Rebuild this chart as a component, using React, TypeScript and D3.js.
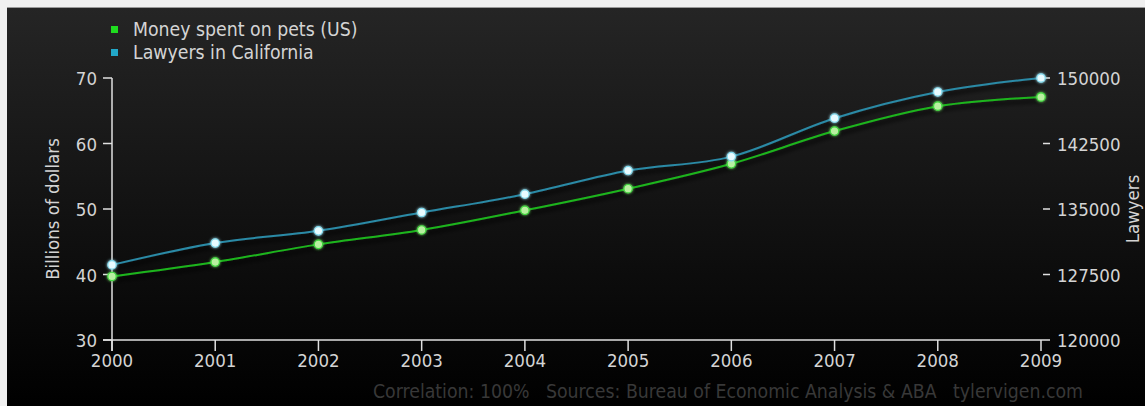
import React from "react";
import * as d3 from "d3";

const years = [2000, 2001, 2002, 2003, 2004, 2005, 2006, 2007, 2008, 2009];
const petSpending = [39.7, 41.9, 44.6, 46.8, 49.8, 53.1, 56.9, 61.9, 65.7, 67.1];
const lawyersCA = [128600, 131100, 132500, 134600, 136700, 139400, 141000, 145400, 148400, 150000];
const leftTicks = [30, 40, 50, 60, 70];
const rightTicks = [120000, 127500, 135000, 142500, 150000];
const seriesNames = ["Money spent on pets (US)", "Lawyers in California"];
const footerText = "Correlation: 100%   Sources: Bureau of Economic Analysis & ABA   tylervigen.com";

const W = 1145;
const H = 406;
const FONT = "'DejaVu Sans Condensed', 'DejaVu Sans', sans-serif";
const FS = 18.5;
const FS_BIG = 19.3;

export default function App() {
  const x = d3.scaleLinear().domain([2000, 2009]).range([112, 1041]);
  const yL = d3.scaleLinear().domain([30, 70]).range([340, 78]);
  const yR = d3.scaleLinear().domain([120000, 150000]).range([340, 78]);

  const petLine = d3
    .line<number>()
    .x((_, i) => x(years[i]))
    .y((d) => yL(d))
    .curve(d3.curveMonotoneX)(petSpending) as string;
  const lawLine = d3
    .line<number>()
    .x((_, i) => x(years[i]))
    .y((d) => yR(d))
    .curve(d3.curveMonotoneX)(lawyersCA) as string;

  const green = "#1fb51f";
  const blue = "#2b8aa6";
  const txt = "#d4d4d4";

  return (
    <svg
      width={W}
      height={H}
      style={{ position: "fixed", left: 0, top: 0, display: "block", background: "#f0f0f0" }}
    >
      <defs>
        <linearGradient id="bg" x1="0" y1="0" x2="0" y2="1">
          <stop offset="0" stopColor="#252525" />
          <stop offset="1" stopColor="#000000" />
        </linearGradient>
        <filter id="shadow" x="-5%" y="-20%" width="110%" height="140%">
          <feGaussianBlur in="SourceAlpha" stdDeviation="2.2" />
          <feOffset dx="1" dy="4" result="b" />
          <feFlood floodColor="#000" floodOpacity="1" />
          <feComposite in2="b" operator="in" />
          <feMerge>
            <feMergeNode />
            <feMergeNode in="SourceGraphic" />
          </feMerge>
        </filter>
        <filter id="glow" x="-100%" y="-100%" width="300%" height="300%">
          <feGaussianBlur in="SourceGraphic" stdDeviation="1.8" result="g" />
          <feMerge>
            <feMergeNode in="g" />
            <feMergeNode in="SourceGraphic" />
          </feMerge>
        </filter>
      </defs>
      <rect x={7} y={7} width={W - 7} height={H - 7} fill="url(#bg)" />
      <line x1={7} x2={W} y1={7.5} y2={7.5} stroke="#9a9a9a" strokeWidth={1} />

      {/* Legend */}
      <g fontFamily={FONT} fontSize={FS_BIG} fill={txt}>
        <rect x={111} y={26} width={7} height={7} fill="#1fdc1f" />
        <text x={133} y={36}>{seriesNames[0]}</text>
        <rect x={111} y={49} width={7} height={7} fill="#22a8c8" />
        <text x={133} y={59}>{seriesNames[1]}</text>
      </g>

      {/* Axes */}
      <g stroke="#e0e0e0" strokeWidth={1.5} fill="none">
        <line x1={x(2000)} x2={x(2000)} y1={yL(70)} y2={351} />
        {leftTicks.map((t) => (
          <line key={t} x1={x(2000) - 9} x2={x(2000)} y1={yL(t)} y2={yL(t)} />
        ))}
        <line x1={x(2000) - 9} x2={x(2009) + 9} y1={yL(30)} y2={yL(30)} />
        {years.map((yr) => (
          <line key={yr} x1={x(yr)} x2={x(yr)} y1={yL(30)} y2={351} />
        ))}
        {rightTicks.slice(1).map((t) => (
          <line key={t} x1={x(2009) + 2} x2={x(2009) + 9} y1={yR(t)} y2={yR(t)} />
        ))}
      </g>
      <g fontFamily={FONT} fontSize={FS} fill={txt}>
        {leftTicks.map((t) => (
          <text key={t} x={x(2000) - 15} y={yL(t) + 7} textAnchor="end">
            {t}
          </text>
        ))}
        {years.map((yr) => (
          <text key={yr} x={x(yr)} y={367} textAnchor="middle">
            {yr}
          </text>
        ))}
        {rightTicks.map((t) => (
          <text key={t} x={x(2009) + 16} y={yR(t) + 7} textAnchor="start">
            {t}
          </text>
        ))}
        <text transform={`translate(59,${(yL(30) + yL(70)) / 2}) rotate(-90)`} textAnchor="middle">
          Billions of dollars
        </text>
        <text transform={`translate(1139,${(yR(120000) + yR(150000)) / 2}) rotate(-90)`} textAnchor="middle">
          Lawyers
        </text>
      </g>

      {/* Lines */}
      <path d={lawLine} fill="none" stroke={blue} strokeWidth={2} filter="url(#shadow)" />
      <path d={petLine} fill="none" stroke={green} strokeWidth={2} filter="url(#shadow)" />

      {/* Markers */}
      {petSpending.map((v, i) => (
        <circle key={"p" + i} cx={x(years[i])} cy={yL(v)} r={4.2} fill="#b8f0a0" stroke="#3cd83c" strokeWidth={1.2} filter="url(#glow)" />
      ))}
      {lawyersCA.map((v, i) => (
        <circle key={"l" + i} cx={x(years[i])} cy={yR(v)} r={4.2} fill="#e8fbff" stroke="#7fd8ec" strokeWidth={1.2} filter="url(#glow)" />
      ))}

      {/* Footer */}
      <text
        x={373}
        y={398}
        fontFamily={FONT}
        fontSize={FS_BIG}
        fill="#383838"
        style={{ whiteSpace: "pre" }}
        textLength={710}
        lengthAdjust="spacing"
      >
        {footerText}
      </text>
    </svg>
  );
}
